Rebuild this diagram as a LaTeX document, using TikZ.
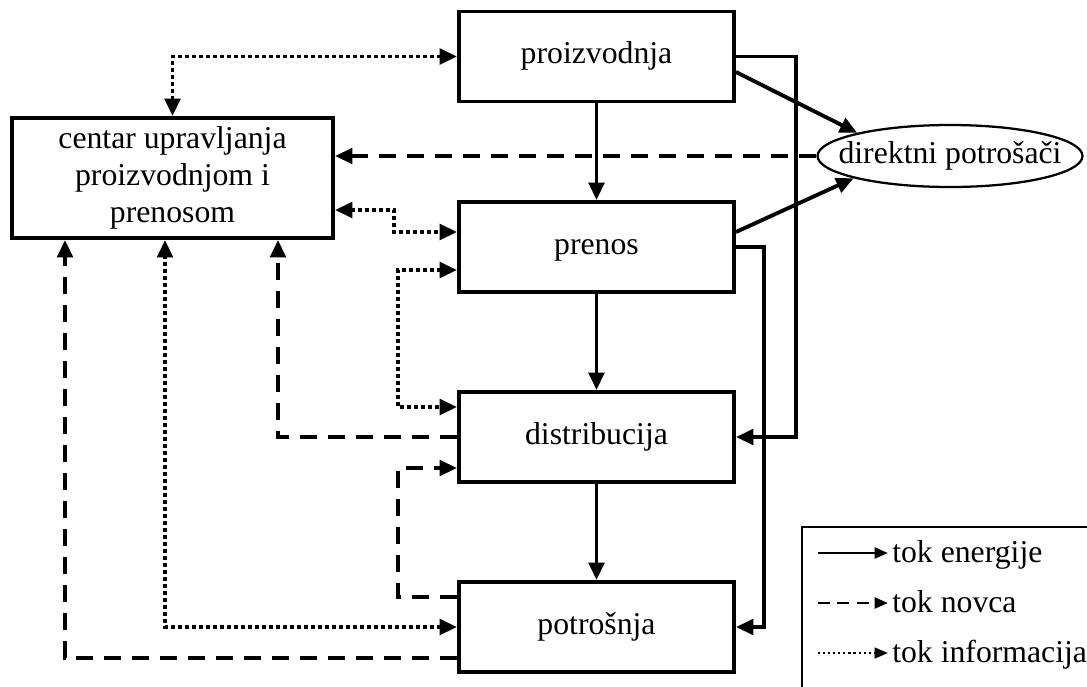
\documentclass[tikz,border=0pt]{standalone}
\usepackage{fontspec}
\setmainfont{Liberation Serif}
\usetikzlibrary{arrows.meta,shapes.geometric,calc}
\tikzset{
  >={Triangle[length=13pt,width=11.5pt]},
  txt/.style={font=\fontsize{23.8}{27.5}\selectfont},
  box/.style={txt,draw,line width=2.9pt,minimum width=206.25pt,minimum height=67.5pt,inner sep=0pt,text height=16pt,text depth=5pt},
  cbox/.style={txt,draw,line width=2.9pt,minimum width=240.75pt,minimum height=90pt,inner sep=0pt,align=center},
  ell/.style={txt,draw,ellipse,line width=1.7pt,minimum width=198.75pt,minimum height=46.5pt,inner xsep=-15pt,inner ysep=0pt},
  en/.style={line width=2.9pt},
  money/.style={line width=2.9pt,dash pattern=on 12.75pt off 8.25pt},
  info/.style={line width=2.9pt,dash pattern=on 3pt off 2.25pt},
  legtxt/.style={txt,inner sep=0pt,anchor=base west},
  legtip/.style={-{Triangle[length=10pt,width=8pt]},shorten >=3pt},
}
\begin{document}
\begin{tikzpicture}[x=0.75pt,y=-0.75pt]
\useasboundingbox (0,0) rectangle (1087,686);
% nodes
\node[box] (pro) at (596.5,56.5) {proizvodnja};
\node[box] (pre) at (596.5,247) {prenos};
\node[box] (dis) at (596.5,437) {distribucija};
\node[box] (pot) at (596.5,627) {potrošnja};
\node[cbox] (cen) at (172.5,178) {centar upravljanja\\proizvodnjom i\\prenosom};
\node[ell] (dp) at (950,156) {direktni potrošači};
\coordinate (r1) at (796,300);
\coordinate (r2) at (764,400);
% energy
\draw[en,->] (pro) -- (pre);
\draw[en,->] (pre) -- (dis);
\draw[en,->] (dis) -- (pot);
\draw[en,->] ($(pro.east)+(0,15.5)$) -- (dp.166);
\draw[en,->] ($(pre.east)+(0,-15)$) -- (dp.193);
\draw[en,->] (pro.east) -| (r1) |- (dis.east);
\draw[en,->] (pre.east) -| (r2) |- (pot.east);
% money
\draw[money,->] (dp.west) -- (dp.west -| cen.east);
\draw[money,->] (dis.west) -| ($(cen.south)+(105.5,0)$);
\draw[money,->] ($(pot.west)+(0,-30)$) -- ++(-59,0) |- ($(dis.west)+(0,31)$);
\draw[money,->] ($(pot.west)+(0,31)$) -| ($(cen.south)+(-107.5,0)$);
% information
\draw[info,<->] (cen.north) |- (pro.west);
\draw[info,<->] ($(cen.east)+(0,32)$) -- ++(59,0) |- ($(pre.west)+(0,-15)$);
\draw[info,<->] ($(pre.west)+(0,23)$) -- ++(-59,0) |- ($(dis.west)+(0,-30)$);
\draw[info,<->] (pot.west) -| ($(cen.south)+(-7.5,0)$);
% legend
\draw[line width=1.3pt] (802,527) rectangle (1100,700);
\node[legtxt] (l1) at (892,562) {tok energije};
\node[legtxt] (l2) at (892,612) {tok novca};
\node[legtxt] (l3) at (892,662) {tok informacija};
\coordinate (s1) at (818,553);
\coordinate (s2) at (818,603);
\coordinate (s3) at (818,653);
\draw[line width=2.2pt,legtip] (s1) -- (s1 -| l1.west);
\draw[line width=2.2pt,dash pattern=on 9pt off 5.5pt,legtip] (s2) -- (s2 -| l2.west);
\draw[line width=1.6pt,dash pattern=on 1.6pt off 2.2pt,legtip] (s3) -- (s3 -| l3.west);
\end{tikzpicture}
\end{document}
